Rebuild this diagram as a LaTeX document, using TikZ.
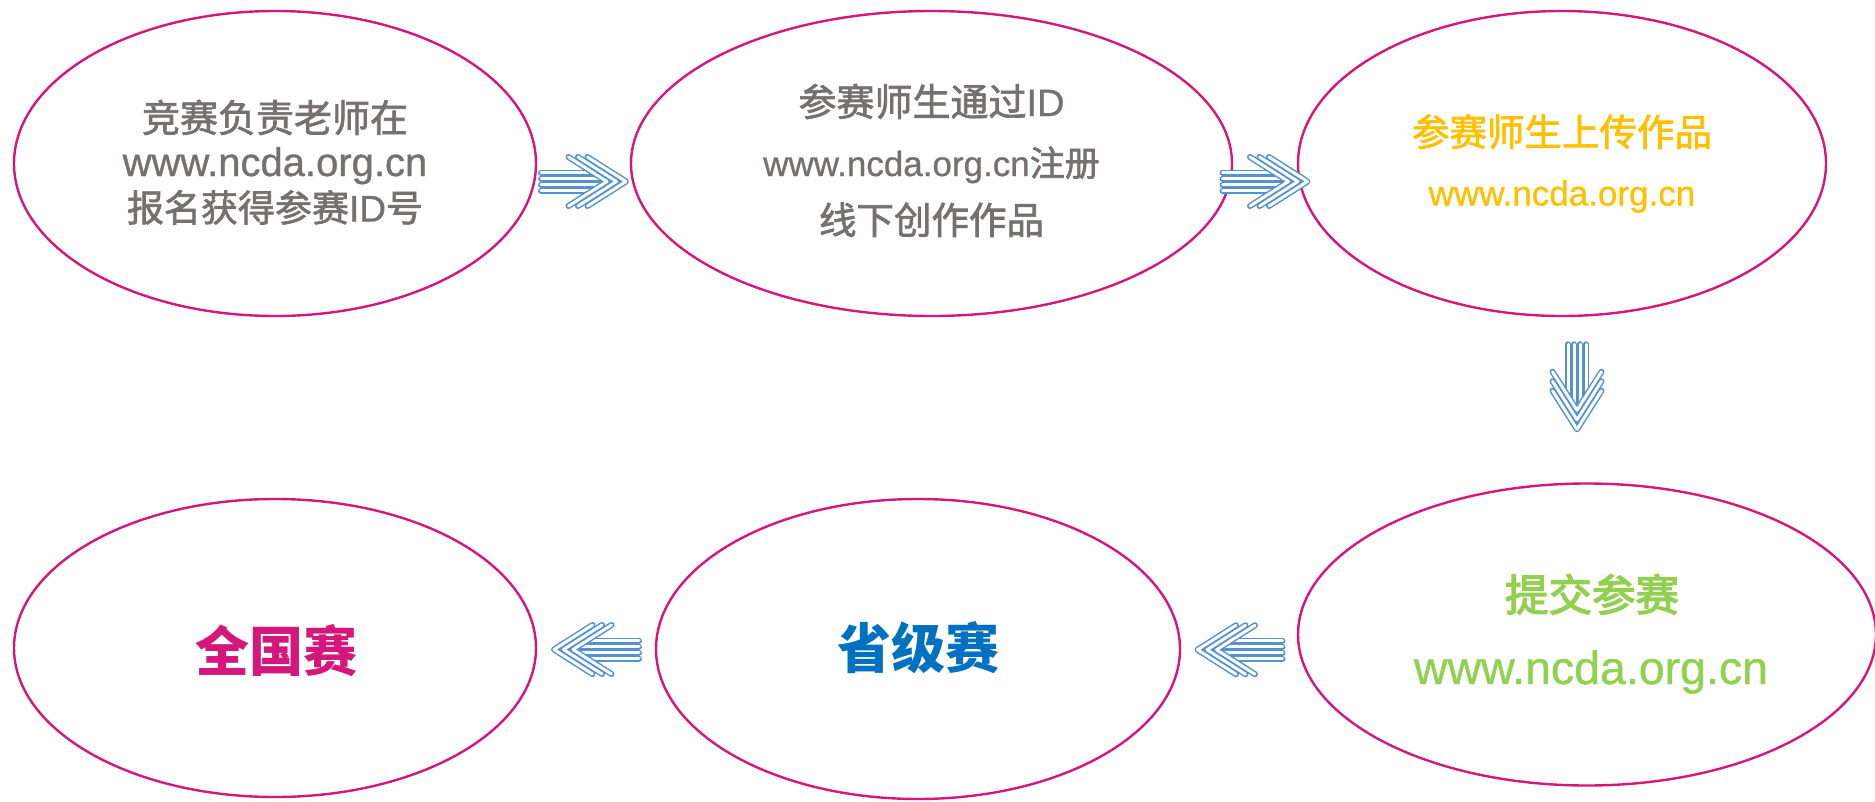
\documentclass[tikz,border=0pt]{standalone}
\usepackage{fontspec}
\setmainfont{Liberation Sans}
\newfontfamily\cjk{Noto Sans CJK SC}
\newfontfamily\cjkm[FakeBold=1.8]{Noto Sans CJK SC}
\newfontfamily\cjks[FakeBold=3]{Noto Sans CJK SC}
\newfontfamily\latm[FakeBold=0.8]{Liberation Sans}
\usetikzlibrary{shapes.geometric,calc}
\definecolor{emag}{HTML}{D5177C}
\definecolor{tgray}{HTML}{767171}
\definecolor{tgold}{HTML}{FFC000}
\definecolor{tgreen}{HTML}{92D050}
\definecolor{tblue}{HTML}{0070C0}
\definecolor{ablue}{HTML}{5593CF}
\tikzset{
  ell/.style={ellipse, draw=emag, line width=2.4pt, inner sep=0pt, outer sep=0pt, fill=white},
  txt/.style={anchor=base, inner sep=0pt},
  stripe/.style={draw=ablue, line width=1.5pt, double=white, double distance=3pt, line cap=round, line join=round},
  pics/stripedarrow/.style={code={
    \foreach \yy/\xe in {-9/28,-3/37,3/37,9/28} { \draw[stripe] (-42.5,\yy) -- (\xe,\yy); }
    \foreach \k in {0,1,2} { \draw[stripe] ({-15+9.5*\k},-24.5) -- ({23.5+9.5*\k},0) -- ({-15+9.5*\k},24.5); }
  }}
}
\newcommand{\fs}[1]{\fontsize{#1}{#1}\selectfont}
\begin{document}
\begin{tikzpicture}[x=1pt,y=-1pt]
\useasboundingbox (0,0) rectangle (1875,801);
\fill[white] (0,0) rectangle (1875,801);
% ellipses
\node[ell, minimum width=522pt, minimum height=305pt] (e1) at (275,163.5) {};
\node[ell, minimum width=601pt, minimum height=305pt] (e2) at (931.5,163.5) {};
\node[ell, minimum width=528pt, minimum height=305pt] (e3) at (1562,163.5) {};
\node[ell, minimum width=522pt, minimum height=298pt] (e4) at (275,648) {};
\node[ell, minimum width=524pt, minimum height=300pt] (e5) at (918,649) {};
\node[ell, minimum width=578pt, minimum height=302pt] (e6) at (1587,634.5) {};
% texts
\node[txt, text=tgray] (t1a) at ($(e1.center)+(0,-31.5)$) {\fs{38}\cjkm 竞赛负责老师在};
\node[txt, text=tgray] (t1b) at ($(e1.center)+(0,12.5)$) {\fs{40}\latm www.ncda.org.cn};
\node[txt, text=tgray] (t1c) at ($(e1.center)+(0,58)$) {\fs{37}{\cjkm 报名获得参赛}{\latm ID}{\cjkm 号}};
\node[txt, text=tgray] (t2a) at ($(e2.center)+(0,-47.5)$) {\fs{38}{\cjkm 参赛师生通过}{\latm ID}};
\node[txt, text=tgray] (t2b) at ($(e2.center)+(0,12.5)$) {\fs{35}{\latm www.ncda.org.cn}{\cjkm 注册}};
\node[txt, text=tgray] (t2c) at ($(e2.center)+(0,70.5)$) {\fs{37.5}\cjkm 线下创作作品};
\node[txt, text=tgold] (t3a) at ($(e3.center)+(0,-17.5)$) {\fs{37.5}\cjkm 参赛师生上传作品};
\node[txt, text=tgold] (t3b) at ($(e3.center)+(0,42)$) {\fs{35}\latm www.ncda.org.cn};
\node[txt, text=tgreen] (t6a) at ($(e6.center)+(5,-23.5)$) {\fs{43.5}\cjks 提交参赛};
\node[txt, text=tgreen] (t6b) at ($(e6.center)+(4,49.5)$) {\fs{46.5}\latm www.ncda.org.cn};
\node[txt, text=emag] (t4) at ($(e4.center)+(1,23)$) {\fs{54}\cjk\bfseries 全国赛};
\node[txt, text=tblue] (t5) at ($(e5.center)+(0,19)$) {\fs{54}\cjk\bfseries 省级赛};
% striped arrows
\pic at ($(e1.east)!0.5!(e2.west)+(0,18)$) {stripedarrow};
\pic at ($(e2.east)!0.5!(e3.west)+(0,18)$) {stripedarrow};
\pic[rotate=-90] at ($(e3.south)!0.5!(e6.north)+(2.5,-13)$) {stripedarrow};
\pic[rotate=180] at ($(e5.east)!0.5!(e6.west)+(1,8)$) {stripedarrow};
\pic[rotate=180] at ($(e4.east)!0.5!(e5.west)+(0.5,1)$) {stripedarrow};
\end{tikzpicture}
\end{document}
